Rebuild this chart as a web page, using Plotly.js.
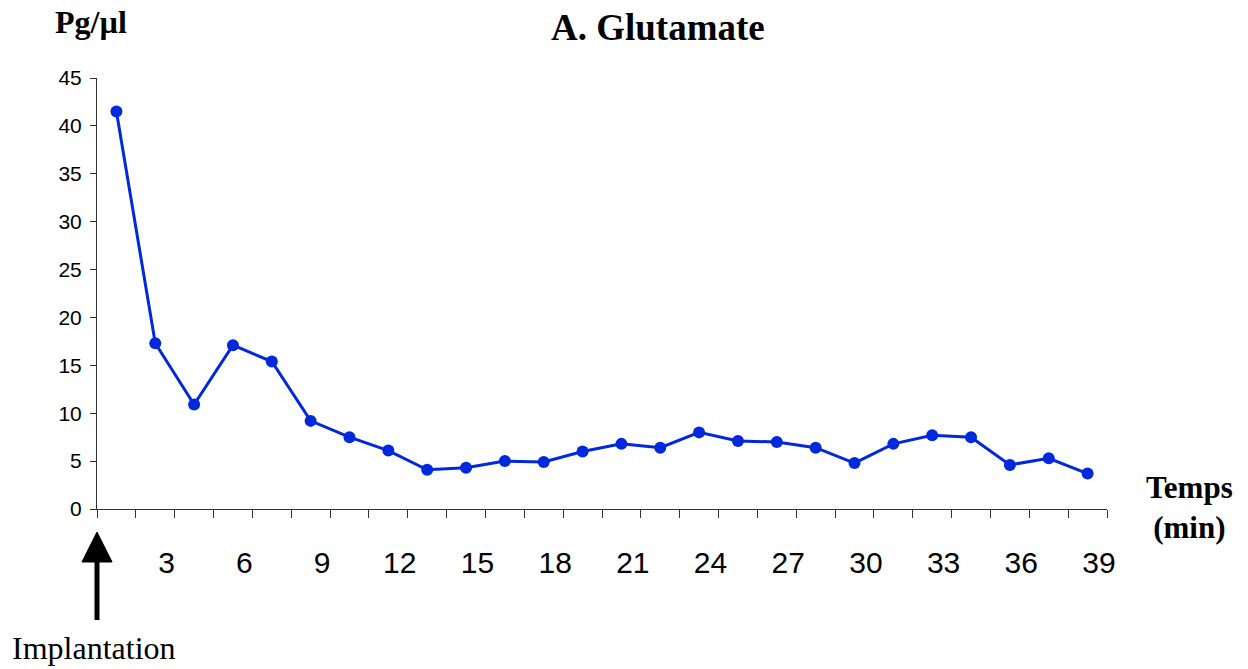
<!DOCTYPE html>
<html>
<head>
<meta charset="utf-8">
<script src="https://cdn.plot.ly/plotly-3.0.1.min.js"></script>
<style>html,body{margin:0;padding:0;background:#fff;}#chart{width:1248px;height:669px;}</style>
</head>
<body>
<div id="chart"></div>
<script>
// Sample index (each sample = 1.5 min interval)
const samples = [1,2,3,4,5,6,7,8,9,10,11,12,13,14,15,16,17,18,19,20,21,22,23,24,25,26];
// Glutamate concentration (Pg/µl)
const glutamate = [41.5,17.3,10.9,17.1,15.4,9.2,7.5,6.1,4.1,4.3,5.0,4.9,6.0,6.8,6.4,8.0,7.1,7.0,6.4,4.8,6.8,7.7,7.5,4.6,5.3,3.7];
// Time tick labels (min) at sample boundaries
const tickPos = [2.5,4.5,6.5,8.5,10.5,12.5,14.5,16.5,18.5,20.5,22.5,24.5,26.5];
const tickText = ['3','6','9','12','15','18','21','24','27','30','33','36','39'];

const blue = 'rgb(0,40,220)';
const trace = {
  x: samples, y: glutamate, type: 'scatter', mode: 'lines+markers',
  line: {color: blue, width: 3},
  marker: {color: blue, size: 12},
  cliponaxis: false, hoverinfo: 'none'
};

const serif = 'Liberation Serif, Times New Roman, serif';
const layout = {
  width: 1248, height: 669,
  margin: {l: 97, r: 141, t: 78, b: 160},
  paper_bgcolor: '#fff', plot_bgcolor: '#fff',
  showlegend: false,
  xaxis: {
    range: [0.5, 26.5], showgrid: false, zeroline: false,
    showline: true, linecolor: '#333', linewidth: 1,
    tickmode: 'array', tickvals: tickPos, ticktext: tickText,
    ticks: 'outside', ticklen: 8, tickcolor: '#333', tickwidth: 1,
    ticklabelstandoff: 19, ticklabelshift: -8,
    tickfont: {family: 'Liberation Sans, Arial, sans-serif', size: 30, color: '#000'},
    minor: {tickmode: 'linear', tick0: 0.5, dtick: 1, ticks: 'outside', ticklen: 8, tickcolor: '#333', tickwidth: 1, showgrid: false}
  },
  yaxis: {
    range: [0, 45], dtick: 5, tick0: 0, showgrid: false, zeroline: false,
    showline: true, linecolor: '#333', linewidth: 1,
    ticks: 'outside', ticklen: 6, tickcolor: '#333',
    tickfont: {family: 'Liberation Sans, Arial, sans-serif', size: 21, color: '#000'},
    ticklabelstandoff: 4
  },
  annotations: [
    {text: '<b>A. Glutamate</b>', xref: 'paper', yref: 'paper', x: 0.5554, y: 1.118,
     xanchor: 'center', yanchor: 'middle', showarrow: false,
     font: {family: serif, size: 37, color: '#000'}},
    {text: '<b>Pg/µl</b>', xref: 'paper', yref: 'paper', x: -0.0059, y: 1.13,
     xanchor: 'center', yanchor: 'middle', showarrow: false,
     font: {family: serif, size: 32, color: '#000'}},
    {text: '<b>Temps<br>(min)</b>', xref: 'paper', yref: 'paper', x: 1.082, y: 0.004,
     xanchor: 'center', yanchor: 'middle', showarrow: false,
     font: {family: serif, size: 31, color: '#000'}},
    {text: 'Implantation', xref: 'paper', yref: 'paper', x: -0.003, y: -0.3225,
     xanchor: 'center', yanchor: 'middle', showarrow: false,
     font: {family: serif, size: 32, color: '#000'}}
  ],
  shapes: [
    {type: 'line', xref: 'paper', yref: 'paper', x0: 0, x1: 0, y0: -0.2575, y1: -0.118,
     line: {color: '#000', width: 5}},
    {type: 'path', xref: 'paper', yref: 'paper',
     path: 'M -0.0149,-0.1230 L 0.0149,-0.1230 L 0,-0.0534 Z',
     fillcolor: '#000', line: {color: '#000', width: 1}}
  ]
};

Plotly.newPlot('chart', [trace], layout, {displayModeBar: false, staticPlot: true});
</script>
</body>
</html>
